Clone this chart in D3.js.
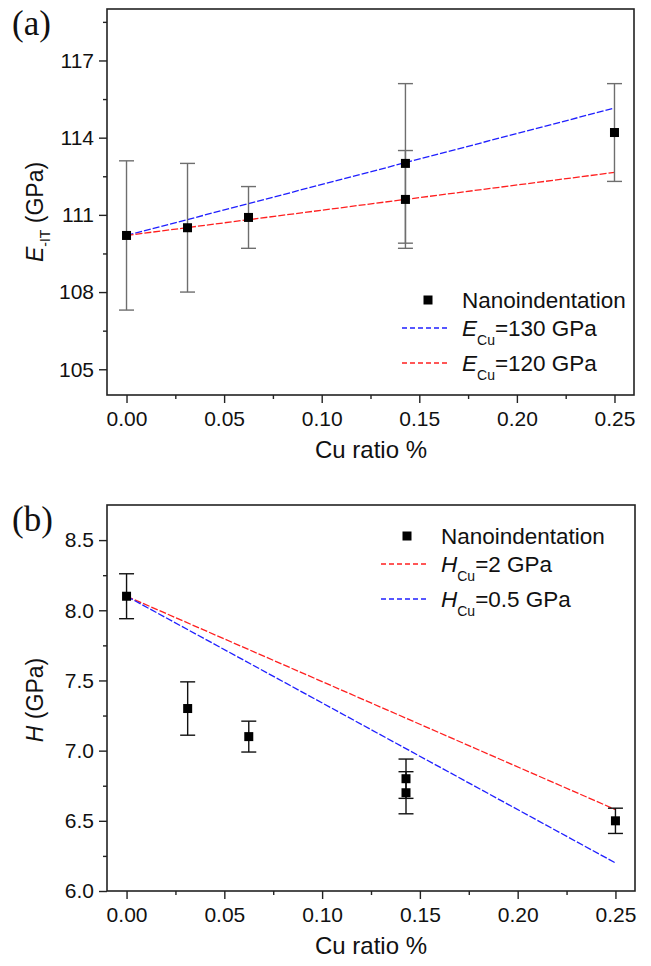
<!DOCTYPE html>
<html>
<head>
<meta charset="utf-8">
<script src="https://cdn.jsdelivr.net/npm/d3@7"></script>
<style>
  body { margin: 0; background: #fff; }
  text { font-family: "Liberation Sans", Arial, sans-serif; fill: #111; }
</style>
</head>
<body>
<script>
// measured data (Cu ratio in %)
var cuRatio = [0, 0.03125, 0.0625, 0.1429, 0.1429, 0.25];
var modulus = [110.2, 110.5, 110.9, 113.0, 111.6, 114.2];
var modulusErr = [2.9, 2.5, 1.2, 3.1, 1.9, 1.9];
var hardness = [8.10, 7.30, 7.10, 6.80, 6.70, 6.50];
var hardnessErr = [0.16, 0.19, 0.11, 0.14, 0.15, 0.09];

// rule-of-mixture model lines
var modelX = [0, 0.25];
var eCu130 = [110.2, 115.15];
var eCu120 = [110.2, 112.65];
var hCu2 = [8.10, 6.58];
var hCu05 = [8.10, 6.20];

var xTicks = [0, 0.05, 0.10, 0.15, 0.20, 0.25];
var eTicks = [105, 108, 111, 114, 117];
var hTicks = [6.0, 6.5, 7.0, 7.5, 8.0, 8.5];

var svg = d3.select("body").append("svg")
    .attr("width", 651)
    .attr("height", 966);

function drawPanel(p) {
    var x = d3.scaleLinear().domain([-0.01, 0.26]).range([p.left, p.right]);
    var y = d3.scaleLinear().domain(p.yDomain).range([p.bottom, p.top]);
    var g = svg.append("g");

    // minor ticks
    var xMinor = d3.range(0.025, 0.26, 0.05);
    g.append("g")
        .attr("transform", "translate(0," + p.bottom + ")")
        .call(d3.axisBottom(x).tickValues(xMinor).tickSize(4).tickFormat(""))
        .call(function (a) { a.select(".domain").remove(); });
    g.append("g")
        .attr("transform", "translate(" + p.left + ",0)")
        .call(d3.axisLeft(y).tickValues(p.yMinor).tickSize(4).tickFormat(""))
        .call(function (a) { a.select(".domain").remove(); });

    var xa = g.append("g")
        .attr("transform", "translate(0," + p.bottom + ")")
        .call(d3.axisBottom(x).tickValues(xTicks).tickSize(8).tickPadding(8).tickFormat(d3.format(".2f")));
    var ya = g.append("g")
        .attr("transform", "translate(" + p.left + ",0)")
        .call(d3.axisLeft(y).tickValues(p.yTicks).tickSize(8).tickPadding(5).tickFormat(p.yFormat));
    [xa, ya].forEach(function (a) {
        a.select(".domain").remove();
        a.selectAll("text").style("font-size", "21px").attr("fill", "#111");
    });
    g.selectAll(".tick line").attr("stroke", "#222").attr("stroke-width", 1.4);

    // frame
    g.append("rect")
        .attr("x", p.left).attr("y", p.top)
        .attr("width", p.right - p.left).attr("height", p.bottom - p.top)
        .attr("fill", "none").attr("stroke", "#222").attr("stroke-width", 1.6);

    // model lines
    var line = d3.line()
        .x(function (d, i) { return x(modelX[i]); })
        .y(function (d) { return y(d); });
    p.models.forEach(function (m) {
        g.append("path")
            .attr("d", line(m.values))
            .attr("fill", "none")
            .attr("stroke", m.color)
            .attr("stroke-width", 1.3)
            .attr("stroke-dasharray", "7,2");
    });

    // error bars
    var eb = g.selectAll(".eb").data(p.values).enter().append("g");
    eb.append("line")
        .attr("x1", function (d, i) { return x(cuRatio[i]); })
        .attr("x2", function (d, i) { return x(cuRatio[i]); })
        .attr("y1", function (d, i) { return y(d + p.err[i]); })
        .attr("y2", function (d, i) { return y(d - p.err[i]); });
    [1, -1].forEach(function (s) {
        eb.append("line")
            .attr("x1", function (d, i) { return x(cuRatio[i]) - 7.5; })
            .attr("x2", function (d, i) { return x(cuRatio[i]) + 7.5; })
            .attr("y1", function (d, i) { return y(d + s * p.err[i]); })
            .attr("y2", function (d, i) { return y(d + s * p.err[i]); });
    });
    eb.selectAll("line").attr("stroke", p.errColor).attr("stroke-width", 1.4);

    // points
    g.selectAll(".pt").data(p.values).enter().append("rect")
        .attr("x", function (d, i) { return x(cuRatio[i]) - 4.5; })
        .attr("y", function (d) { return y(d) - 4.5; })
        .attr("width", 9).attr("height", 9)
        .attr("fill", "#000");

    // panel letter
    svg.append("text")
        .attr("x", 12).attr("y", p.letterY)
        .style("font-family", "'Liberation Serif', 'Times New Roman', serif")
        .style("font-size", "35px")
        .text(p.letter);

    // x title
    svg.append("text")
        .attr("x", 371).attr("y", p.bottom + 63)
        .attr("text-anchor", "middle")
        .style("font-size", "24px")
        .text("Cu ratio %");

    // y title
    var yt = svg.append("text")
        .attr("transform", "translate(" + 43 + "," + p.yTitleY + ") rotate(-90)")
        .attr("text-anchor", "middle")
        .style("font-size", "23px");
    yt.append("tspan").style("font-style", "italic").text(p.yVar);
    if (p.ySub) {
        yt.append("tspan").attr("dy", 7).style("font-size", "14px").text(p.ySub);
        yt.append("tspan").attr("dy", -7).text(" (GPa)");
    } else {
        yt.append("tspan").text(" (GPa)");
    }

    // legend
    var lg = svg.append("g");
    lg.append("rect")
        .attr("x", p.legX - 4.5).attr("y", p.legY - 4.5)
        .attr("width", 9).attr("height", 9).attr("fill", "#000");
    lg.append("text")
        .attr("x", p.legX + 34).attr("y", p.legY + 8)
        .style("font-size", "22.5px")
        .text("Nanoindentation");
    p.models.forEach(function (m, k) {
        var yy = p.legY + 28 + k * 35;
        lg.append("line")
            .attr("x1", p.legX - 26).attr("x2", p.legX + 19)
            .attr("y1", yy).attr("y2", yy)
            .attr("stroke", m.color).attr("stroke-width", 1.3)
            .attr("stroke-dasharray", "5,3");
        var t = lg.append("text")
            .attr("x", p.legX + 34).attr("y", yy + 8)
            .style("font-size", "22.5px");
        t.append("tspan").style("font-style", "italic").text(p.yVar);
        t.append("tspan").attr("dy", 9).style("font-size", "14px").text("Cu");
        t.append("tspan").attr("dy", -9).text(m.label);
    });
}

drawPanel({
    letter: "(a)", letterY: 35,
    left: 107, right: 634, top: 9, bottom: 395,
    yDomain: [104, 119], yTicks: eTicks, yMinor: d3.range(103.5, 119, 3).filter(function (v) { return v > 104; }),
    yFormat: d3.format("d"),
    values: modulus, err: modulusErr, errColor: "#6e6e6e",
    yVar: "E", ySub: "-IT", yTitleY: 212,
    legX: 428, legY: 300,
    models: [
        { values: eCu130, color: "#1f1fff", label: "=130 GPa" },
        { values: eCu120, color: "#ff1f1f", label: "=120 GPa" }
    ]
});

drawPanel({
    letter: "(b)", letterY: 531,
    left: 107, right: 635, top: 505, bottom: 891,
    yDomain: [6.0, 8.75], yTicks: hTicks, yMinor: d3.range(6.25, 8.75, 0.5),
    yFormat: d3.format(".1f"),
    values: hardness, err: hardnessErr, errColor: "#111",
    yVar: "H", ySub: null, yTitleY: 700,
    legX: 407, legY: 536,
    models: [
        { values: hCu2, color: "#ff1f1f", label: "=2 GPa" },
        { values: hCu05, color: "#1f1fff", label: "=0.5 GPa" }
    ]
});
</script>
</body>
</html>
